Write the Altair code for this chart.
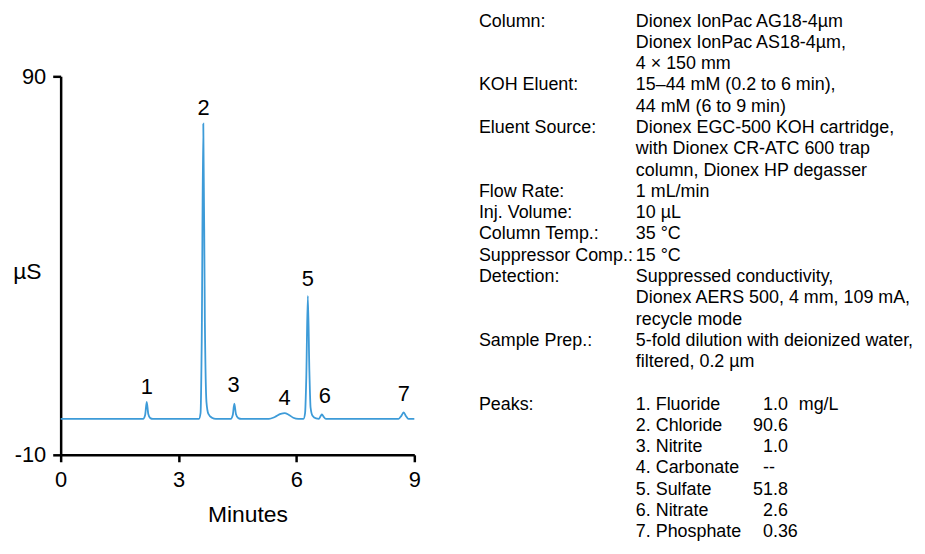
import altair as alt
import pandas as pd

# ---- chromatogram trace (minutes, µS) ----
time_min = [0.00, 2.10, 2.15, 2.19, 2.23, 2.28, 2.35,
            3.52, 3.56, 3.59, 3.63, 3.67, 3.71, 3.76, 3.85, 3.95,
            4.33, 4.38, 4.42, 4.46, 4.52, 4.60,
            5.30, 5.45, 5.60, 5.70, 5.80, 5.92, 6.05,
            6.18, 6.22, 6.25, 6.29, 6.33, 6.36, 6.41, 6.50,
            6.57, 6.62, 6.65, 6.69, 6.75,
            8.60, 8.67, 8.73, 8.79, 8.85, 9.00]
signal_us = [-0.5, -0.5, 0.5, 4.0, 0.8, -0.3, -0.5,
             -0.5, 1.0, 20.0, 77.5, 25.0, 4.0, 0.8, -0.2, -0.5,
             -0.5, 0.5, 3.5, 0.8, -0.3, -0.5,
             -0.5, 0.0, 0.8, 1.0, 0.6, -0.2, -0.5,
             -0.5, 1.0, 10.0, 32.0, 12.0, 2.5, 0.3, -0.4,
             -0.5, 0.3, 0.7, 0.1, -0.5,
             -0.5, 0.3, 1.2, 0.2, -0.5, -0.5]

# ---- peak number labels ----
peak_ids = ["1", "2", "3", "4", "5", "6", "7"]
label_time = [2.19, 3.64, 4.40, 5.70, 6.29, 6.72, 8.73]
label_signal = [8.0, 81.7, 8.4, 5.1, 36.5, 5.5, 6.1]

# ---- conditions block ----
info_labels = ["Column:", "", "", "KOH Eluent:", "", "Eluent Source:", "", "",
               "Flow Rate:", "Inj. Volume:", "Column Temp.:", "Suppressor Comp.:",
               "Detection:", "", "", "Sample Prep.:", "", "", "Peaks:"]
info_values = ["Dionex IonPac AG18-4µm", "Dionex IonPac AS18-4µm,", "4 × 150 mm",
               "15–44 mM (0.2 to 6 min),", "44 mM (6 to 9 min)",
               "Dionex EGC-500 KOH cartridge,", "with Dionex CR-ATC 600 trap",
               "column, Dionex HP degasser", "1 mL/min", "10 µL", "35 °C", "15 °C",
               "Suppressed conductivity,", "Dionex AERS 500, 4 mm, 109 mA,",
               "recycle mode", "5-fold dilution with deionized water,",
               "filtered, 0.2 µm", "", ""]

peak_names = ["1. Fluoride", "2. Chloride", "3. Nitrite", "4. Carbonate",
              "5. Sulfate", "6. Nitrate", "7. Phosphate"]
peak_amounts = ["1.0", "90.6", "1.0", "--", "51.8", "2.6", "0.36"]
amount_unit = "mg/L"

FONT = "Liberation Sans"
BLUE = "#3d9bd8"
TXT = 18

trace = pd.DataFrame({"t": time_min, "s": signal_us})
labels = pd.DataFrame({"t": label_time, "s": label_signal, "id": peak_ids})

n_info = len(info_labels)
info = pd.DataFrame({"row": list(range(n_info)), "label": info_labels, "value": info_values})
peaks = pd.DataFrame({"row": [18 + i for i in range(len(peak_names))],
                      "name": peak_names, "amount": peak_amounts})
unit_df = pd.DataFrame({"row": [18], "unit": [amount_unit]})

xscale = alt.Scale(domain=[0, 9], nice=False, zero=False)
yscale = alt.Scale(domain=[-10, 90], nice=False, zero=False)

line = alt.Chart(trace).mark_line(color=BLUE, strokeWidth=1.8, interpolate="monotone").encode(
    x=alt.X("t:Q", scale=xscale,
            axis=alt.Axis(values=[0, 3, 6, 9], title="Minutes", titleX=188, titleY=60,
                          titleAlign="center", titleBaseline="middle", labelFlush=False,
                          labelPadding=8, tickSize=7)),
    y=alt.Y("s:Q", scale=yscale,
            axis=alt.Axis(values=[-10, 90], title="µS", titleAngle=0, titleX=-34, titleY=197,
                          titleAlign="center", titleBaseline="middle", labelPadding=7,
                          tickSize=8, labelExpr="toString(datum.value)")),
)

peak_text = alt.Chart(labels).mark_text(fontSize=22, font=FONT, color="black",
                                        align="center", baseline="middle").encode(
    x=alt.X("t:Q", scale=xscale),
    y=alt.Y("s:Q", scale=yscale, axis=None),
    text="id:N",
)

rowscale = alt.Scale(domain=[0, 24], range=[-55, 459], nice=False, zero=False)

def text_layer(df, field, xpix, flt=None):
    c = alt.Chart(df)
    if flt is not None:
        c = c.transform_filter(flt)
    return c.mark_text(fontSize=TXT, font=FONT, color="black",
                       align="left", baseline="middle").encode(
        x=alt.value(xpix),
        y=alt.Y("row:Q", scale=rowscale, axis=None),
        text=f"{field}:N",
    )

t_labels = text_layer(info, "label", 421)
t_values = text_layer(info, "value", 579)
t_names = text_layer(peaks, "name", 579)
# amounts with two integer digits start one digit-width further left
two_digit = "indexof(datum.amount, '.') == 2"
t_amt_wide = text_layer(peaks, "amount", 697, two_digit)
t_amt_narrow = text_layer(peaks, "amount", 707, "!(" + two_digit + ")")
t_unit = text_layer(unit_df, "unit", 743)

chart = alt.layer(line, peak_text, t_labels, t_values, t_names, t_amt_wide, t_amt_narrow,
                  t_unit).resolve_scale(
    y="independent"
).properties(
    width=356, height=381,
    padding={"left": 53, "top": 67, "right": 506, "bottom": 88},
    autosize=alt.AutoSizeParams(type="none"),
).configure_view(stroke=None).configure_axis(
    grid=False, domainColor="black", domainWidth=2.5, tickColor="black", tickWidth=2.5,
    labelColor="black", labelFontSize=22, labelFont=FONT, titleColor="black",
    titleFontSize=23, titleFont=FONT, titleFontWeight="normal",
)

chart.save("out.html", embed_options={"renderer": "svg", "actions": False})
